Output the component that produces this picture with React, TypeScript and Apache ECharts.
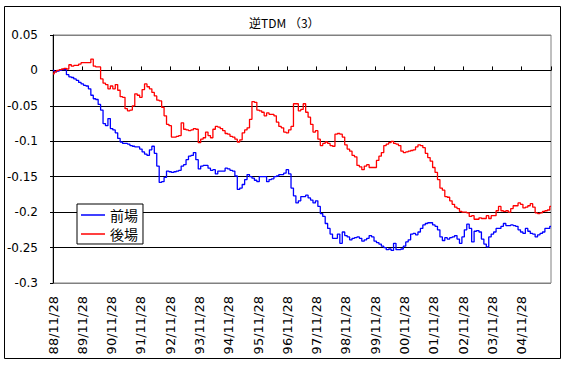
import React, { useEffect, useRef } from "react";
import * as echarts from "echarts";

// Monthly observations starting 88/11/28
const START_YEAR = 1988;
const START_MONTH = 11;

const tickLabels = [
  "88/11/28", "89/11/28", "90/11/28", "91/11/28", "92/11/28", "93/11/28",
  "94/11/28", "95/11/28", "96/11/28", "97/11/28", "98/11/28", "99/11/28",
  "00/11/28", "01/11/28", "02/11/28", "03/11/28", "04/11/28",
];

const seriesNames = ["前場", "後場"];

// 前場
const zenba = [
  0.000, -0.002, -0.001, 0.000, 0.001, 0.001, -0.006, -0.009, -0.010, -0.012,
  -0.014, -0.017, -0.019, -0.021, -0.022, -0.026, -0.035, -0.040, -0.041, -0.048,
  -0.056, -0.075, -0.078, -0.068, -0.082, -0.084, -0.088, -0.096, -0.101, -0.103,
  -0.103, -0.104, -0.106, -0.107, -0.108, -0.108, -0.111, -0.115, -0.118, -0.120,
  -0.112, -0.107, -0.117, -0.135, -0.158, -0.157, -0.151, -0.142, -0.143, -0.144,
  -0.143, -0.142, -0.141, -0.135, -0.133, -0.126, -0.121, -0.120, -0.116, -0.126,
  -0.139, -0.135, -0.134, -0.134, -0.138, -0.141, -0.140, -0.146, -0.142, -0.142,
  -0.142, -0.138, -0.139, -0.141, -0.142, -0.149, -0.168, -0.166, -0.161, -0.154,
  -0.147, -0.150, -0.152, -0.155, -0.157, -0.150, -0.150, -0.150, -0.157, -0.154,
  -0.153, -0.150, -0.149, -0.147, -0.147, -0.145, -0.140, -0.146, -0.166, -0.177,
  -0.187, -0.184, -0.178, -0.178,
  -0.176, -0.180, -0.183, -0.187, -0.184, -0.192, -0.202, -0.206, -0.216, -0.223,
  -0.231, -0.237, -0.237, -0.231, -0.244, -0.228, -0.233, -0.235, -0.239, -0.237,
  -0.236, -0.235, -0.237, -0.241, -0.239, -0.237, -0.233, -0.235, -0.241, -0.243,
  -0.245, -0.248, -0.250, -0.253, -0.252, -0.254, -0.244, -0.253, -0.253, -0.252,
  -0.248, -0.242, -0.239, -0.231, -0.230, -0.232, -0.228, -0.223, -0.218, -0.216,
  -0.215, -0.215,
  -0.218, -0.220, -0.225, -0.235, -0.240, -0.236, -0.238, -0.236, -0.235, -0.233,
  -0.238, -0.244, -0.235, -0.225, -0.217, -0.223, -0.242, -0.227, -0.226, -0.228,
  -0.238, -0.245, -0.249, -0.235, -0.231, -0.228, -0.223, -0.223, -0.220, -0.216,
  -0.219, -0.219, -0.218, -0.219, -0.220, -0.225, -0.228, -0.230, -0.223, -0.227,
  -0.230, -0.231, -0.235, -0.232, -0.230, -0.228, -0.223, -0.223, -0.220,
];

// 後場
const goba = [
  -0.005, -0.002, 0.000, 0.001, 0.002, 0.003, 0.002, 0.008, 0.006, 0.007,
  0.007, 0.009, 0.011, 0.011, 0.011, 0.011, 0.016, 0.006, 0.005, 0.005,
  -0.012, -0.018, -0.020, -0.026, -0.022, -0.026, -0.020, -0.028, -0.037, -0.038,
  -0.054, -0.057, -0.056, -0.050, -0.033, -0.035, -0.038, -0.027, -0.019, -0.023,
  -0.026, -0.031, -0.036, -0.042, -0.043, -0.052, -0.064, -0.076, -0.078, -0.094,
  -0.094, -0.093, -0.092, -0.074, -0.083, -0.084, -0.085, -0.084, -0.082, -0.083,
  -0.102, -0.097, -0.095, -0.087, -0.092, -0.095, -0.083, -0.079, -0.080, -0.082,
  -0.085, -0.089, -0.090, -0.093, -0.094, -0.097, -0.101, -0.098, -0.088, -0.084,
  -0.081, -0.069, -0.044, -0.045, -0.056, -0.057, -0.059, -0.064, -0.060, -0.062,
  -0.062, -0.064, -0.073, -0.079, -0.081, -0.087, -0.088, -0.084, -0.079, -0.047,
  -0.047, -0.057, -0.055, -0.047,
  -0.059, -0.066, -0.076, -0.087, -0.085, -0.097, -0.106, -0.103, -0.101, -0.103,
  -0.106, -0.107, -0.090, -0.089, -0.090, -0.094, -0.105, -0.111, -0.114, -0.120,
  -0.122, -0.134, -0.136, -0.140, -0.135, -0.133, -0.137, -0.137, -0.137, -0.127,
  -0.121, -0.116, -0.106, -0.104, -0.102, -0.100, -0.103, -0.104, -0.106, -0.114,
  -0.116, -0.115, -0.114, -0.113, -0.112, -0.108, -0.105, -0.106, -0.109, -0.117,
  -0.123, -0.128,
  -0.137, -0.144, -0.154, -0.166, -0.169, -0.178, -0.179, -0.184, -0.189, -0.193,
  -0.195, -0.199, -0.200, -0.200, -0.201, -0.206, -0.205, -0.210, -0.210, -0.208,
  -0.209, -0.209, -0.205, -0.209, -0.205, -0.205, -0.198, -0.192, -0.198, -0.199,
  -0.198, -0.200, -0.195, -0.191, -0.191, -0.187, -0.189, -0.194, -0.193, -0.191,
  -0.188, -0.193, -0.201, -0.202, -0.201, -0.199, -0.198, -0.197, -0.192,
];

function buildCategories(n: number): string[] {
  const out: string[] = [];
  for (let i = 0; i < n; i++) {
    const idx = START_MONTH - 1 + i;
    const y = START_YEAR + Math.floor(idx / 12);
    const mo = (idx % 12) + 1;
    out.push(`${String(y % 100).padStart(2, "0")}/${String(mo).padStart(2, "0")}/28`);
  }
  return out;
}

const categories = buildCategories(Math.max(zenba.length, goba.length));

export default function App() {
  const ref = useRef<HTMLDivElement>(null);
  useEffect(() => {
    if (!ref.current) return;
    const chart = echarts.init(ref.current, undefined, { renderer: "svg" });
    const axisFont = "'DejaVu Sans', sans-serif";
    const cjkFont = "'Noto Sans CJK JP', sans-serif";
    chart.setOption({
      animation: false,
      backgroundColor: "#ffffff",
      title: {
        text: "逆TDM （3）",
        left: 244,
        top: 11,
        textStyle: { fontSize: 12, fontWeight: "normal", color: "#000", fontFamily: cjkFont },
      },
      legend: {
        data: seriesNames,
        orient: "vertical",
        left: 77,
        top: 204,
        padding: [4, 5, 3, 4],
        itemGap: 5,
        itemWidth: 24,
        itemHeight: 14,
        icon: "path://M0,0H24V1.5H0Z",
        backgroundColor: "#ffffff",
        borderColor: "#000",
        borderWidth: 1,
        textStyle: { fontSize: 14, color: "#000", fontFamily: cjkFont, padding: [0, 0, 0, 0] },
      },
      grid: {
        left: 53,
        top: 35,
        width: 498,
        height: 248,
        show: true,
        borderColor: "#808080",
        borderWidth: 1,
        backgroundColor: "#ffffff",
      },
      graphic: [
        {
          type: "rect",
          shape: { x: 4.5, y: 6.5, width: 556, height: 352 },
          style: { fill: "none", stroke: "#000", lineWidth: 1 },
          silent: true,
          z: 100,
        },
      ],
      xAxis: [
        {
          type: "category",
          data: categories,
          boundaryGap: false,
          position: "bottom",
          axisLine: { show: false, onZero: false },
          axisTick: { show: false },
          axisLabel: {
            interval: 11,
            rotate: 90,
            margin: 13,
            fontSize: 13,
            color: "#000",
            fontFamily: axisFont,
            formatter: (v: string, i: number) => {
              const k = Math.round(i / 12);
              return k < tickLabels.length ? tickLabels[k] : "";
            },
          },
          splitLine: { show: false },
        },
        {
          type: "category",
          data: categories,
          boundaryGap: false,
          position: "bottom",
          axisLine: { show: true, onZero: true, lineStyle: { color: "#000", width: 1 } },
          axisTick: { show: true, inside: true, length: 4, interval: 11, lineStyle: { color: "#000" } },
          axisLabel: { show: false },
          splitLine: { show: false },
        },
      ],
      yAxis: {
        type: "value",
        min: -0.3,
        max: 0.05,
        interval: 0.05,
        axisLine: { show: true, onZero: false, lineStyle: { color: "#000" } },
        axisTick: { show: true, length: 3, lineStyle: { color: "#000" } },
        axisLabel: {
          margin: 15,
          fontSize: 12,
          color: "#000",
          fontFamily: axisFont,
          formatter: (v: number) => {
            const r = Math.round(v * 100) / 100;
            return String(r);
          },
        },
        splitLine: {
          show: true,
          lineStyle: {
            color: ["#808080", "#000", "#000", "#000", "#000", "#000", "#000", "#808080"],
            width: 1,
          },
        },
      },
      series: [
        {
          name: seriesNames[0],
          type: "line",
          data: zenba,
          xAxisIndex: 0,
          step: "middle",
          showSymbol: false,
          color: "#0000ff",
          lineStyle: { color: "#0000ff", width: 1.3 },
          z: 3,
        },
        {
          name: seriesNames[1],
          type: "line",
          data: goba,
          xAxisIndex: 0,
          step: "middle",
          showSymbol: false,
          color: "#ff0000",
          lineStyle: { color: "#ff0000", width: 1.3 },
          z: 3,
        },
      ],
    });
    return () => chart.dispose();
  }, []);
  return (
    <div
      ref={ref}
      style={{ position: "fixed", left: 0, top: 0, width: 580, height: 368, background: "#fff" }}
    />
  );
}
